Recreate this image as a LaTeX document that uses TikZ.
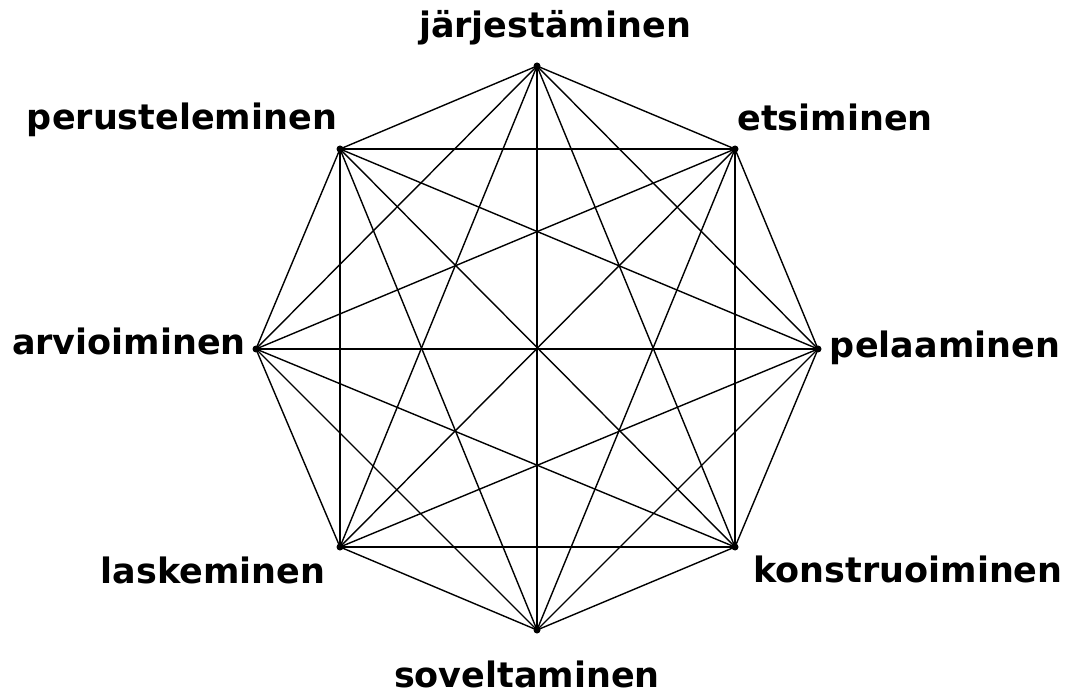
\documentclass[tikz,border=0pt]{standalone}
\usepackage{fontspec}
\setmainfont{DejaVu Sans}
\begin{document}
\begin{tikzpicture}[x=1pt,y=-1pt,
  lbl/.style={anchor=base,inner sep=0pt,font=\fontsize{35}{40}\selectfont\bfseries},
  edge/.style={line width=1.4pt,black},
  vdot/.style={fill=black}]
\useasboundingbox (0,0) rectangle (1072,695);
\coordinate (v1) at (537,66);
\coordinate (v2) at (735,149);
\coordinate (v3) at (818,349);
\coordinate (v4) at (735,547);
\coordinate (v5) at (537,630);
\coordinate (v6) at (340,547);
\coordinate (v7) at (256,349);
\coordinate (v8) at (340,149);
\foreach \i in {1,...,7}{
  \pgfmathtruncatemacro\k{\i+1}
  \foreach \j in {\k,...,8}{\draw[edge] (v\i) -- (v\j);}
}
\foreach \i in {1,...,8}{\fill[vdot] (v\i) circle (3.5pt);}
\node[lbl] (l1) at (555,38) {järjestäminen};
\node[lbl] (l2) at (835,131) {etsiminen};
\node[lbl] (l3) at (945,358) {pelaaminen};
\node[lbl] (l4) at (908,582) {konstruoiminen};
\node[lbl] (l5) at (527,687) {soveltaminen};
\node[lbl] (l6) at (213,583) {laskeminen};
\node[lbl] (l7) at (129,355) {arvioiminen};
\node[lbl] (l8) at (182,130) {perusteleminen};
\end{tikzpicture}
\end{document}
